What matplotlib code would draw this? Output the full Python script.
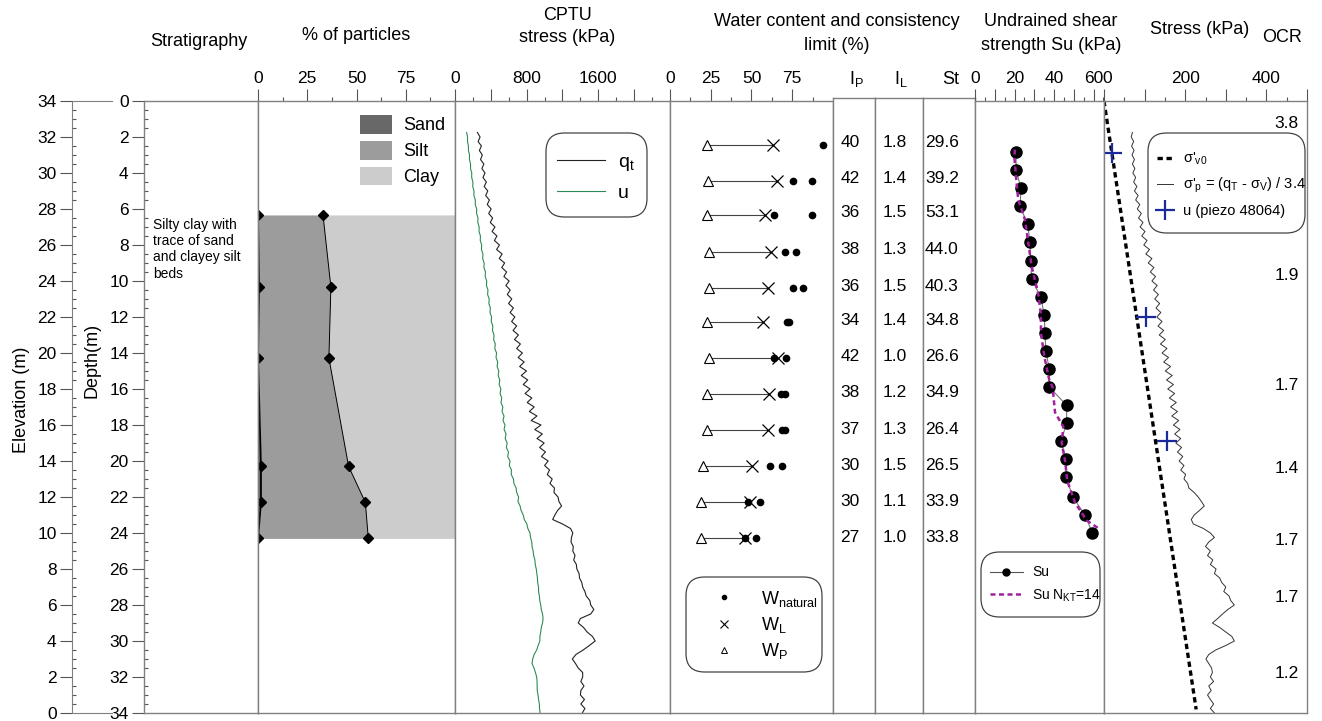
import numpy as np
import matplotlib
matplotlib.use("Agg")
import matplotlib.pyplot as plt
from matplotlib.ticker import FixedLocator, MultipleLocator, FuncFormatter
from matplotlib.patches import FancyBboxPatch, Patch
from matplotlib.lines import Line2D

plt.rcParams['font.family'] = ['Liberation Sans', 'DejaVu Sans']
plt.rcParams['mathtext.fontset'] = 'custom'
plt.rcParams['mathtext.rm'] = 'Liberation Sans'
plt.rcParams['mathtext.it'] = 'Liberation Sans'

# ---- data ----
# grain size (% of particles)
part_depth = [6.33, 10.33, 14.28, 20.3, 22.3, 24.3]
sand_pct = [0, 0.5, 0, 1.5, 1.5, 0]
silt_pct = [33, 36.5, 36, 44.5, 53, 56]

# CPTU, one reading every 0.25 m from 1.75 m
cptu_top = 1.75
cptu_step = 0.25
qt = [250, 280, 258, 295, 272, 305, 285, 322,
      300, 335, 312, 350, 326, 366, 342, 384,
      360, 404, 376, 420, 394, 446, 414, 468,
      440, 496, 464, 526, 494, 554, 522, 576,
      546, 604, 568, 616, 584, 634, 598, 652,
      615, 668, 632, 688, 648, 708, 664, 730,
      688, 752, 705, 772, 722, 798, 740, 812,
      762, 838, 782, 858, 806, 884, 830, 915,
      850, 960, 890, 975, 915, 995, 945, 1010,
      965, 1040, 1000, 1055, 1030, 1085, 1060, 1110,
      1105, 1150, 1160, 1190, 1145, 1115, 1090, 1200,
      1290, 1315, 1300, 1295, 1320, 1315, 1340, 1325,
      1355, 1360, 1385, 1390, 1415, 1425, 1450, 1465,
      1505, 1515, 1550, 1515, 1400, 1376, 1435, 1475,
      1535, 1565, 1500, 1430, 1350, 1310, 1345, 1375,
      1425, 1425, 1405, 1440, 1405, 1400, 1445, 1405,
      1450, 1421]
u = [130, 140, 140, 150, 150, 162, 161, 174,
     173, 187, 186, 200, 198, 212, 211, 227,
     226, 242, 241, 257, 254, 270, 268, 284,
     282, 298, 295, 312, 309, 325, 323, 340,
     337, 354, 351, 368, 364, 382, 378, 395,
     391, 408, 405, 422, 418, 436, 431, 450,
     444, 464, 458, 477, 470, 489, 482, 500,
     493, 512, 503, 522, 513, 534, 525, 547,
     536, 558, 548, 570, 560, 582, 573, 597,
     588, 614, 606, 630, 628, 652, 658, 682,
     688, 710, 703, 727, 738, 762, 773, 802,
     813, 837, 843, 857, 860, 872, 878, 892,
     896, 907, 913, 920, 923, 932, 933, 942,
     946, 957, 963, 977, 983, 977, 963, 957,
     948, 947, 928, 912, 883, 867, 860, 882,
     898, 912, 916, 917, 918, 927, 933, 942,
     943, 951]
sigma_p = [70, 67, 73, 68, 74, 69, 75, 70,
           76, 71, 78, 73, 81, 75, 84, 78,
           88, 82, 92, 85, 96, 89, 101, 93,
           106, 98, 112, 103, 118, 109, 123, 114,
           127, 118, 131, 122, 134, 125, 137, 128,
           140, 130, 143, 133, 147, 136, 151, 139,
           155, 143, 159, 147, 164, 151, 168, 154,
           171, 157, 174, 161, 178, 164, 181, 167,
           184, 171, 187, 174, 189, 177, 191, 181,
           194, 185, 197, 189, 201, 197, 206, 209,
           222, 232, 240, 247, 235, 222, 215, 220,
           245, 262, 272, 258, 250, 262, 255, 268,
           262, 276, 272, 285, 290, 300, 295, 308,
           312, 321, 305, 292, 280, 267, 285, 300,
           315, 321, 300, 275, 258, 251, 258, 265,
           267, 262, 270, 258, 264, 255, 262, 270,
           262, 272]

# water content and consistency
wc_depth = [2.44, 4.44, 6.33, 8.39, 10.4, 12.3, 14.3, 16.3, 18.3, 20.3, 22.3, 24.3]
w_p = [23, 23.5, 22.5, 24, 24, 23, 24, 23, 23, 20.5, 19, 19]
w_l = [63, 65.5, 58.5, 62, 60, 57, 66, 61, 60, 50.5, 49, 46]
w_nat_a = [94, 75.6, 64, 70.7, 75.6, 72, 64, 68, 69, 61.6, 48, 46]
w_nat_b = [np.nan, 87, 87, 77, 81.7, 73, 71, 70.7, 70.7, 69, 55, 53]
ip_vals = ['40', '42', '36', '38', '36', '34', '42', '38', '37', '30', '30', '27']
il_vals = ['1.8', '1.4', '1.5', '1.3', '1.5', '1.4', '1.0', '1.2', '1.3', '1.5', '1.1', '1.0']
st_vals = ['29.6', '39.2', '53.1', '44.0', '40.3', '34.8', '26.6', '34.9', '26.4', '26.5', '33.9', '33.8']

# undrained shear strength
su_depth = [2.85, 3.85, 4.85, 5.85, 6.85, 7.85, 8.9, 9.9, 10.9, 11.9, 12.9,
            13.9, 14.9, 15.9, 16.9, 17.9, 18.9, 19.9, 20.9, 22.0, 23.0, 24.0]
su = [20.8, 20.8, 23.3, 22.8, 26.7, 27.8, 28.2, 28.7, 33.3, 35.1, 35.4,
      35.9, 37.6, 37.6, 46.4, 46.4, 43.5, 46.1, 46.1, 49.5, 55.7, 59.4]
su_nkt_depth = [2.7, 3.1, 4.6, 5.5, 6.6, 7.9, 9.2, 10.7, 11.8, 12.9, 14.2,
                15.5, 15.9, 17.3, 18.1, 19.0, 20.0, 21.1, 22.3, 23.3, 23.8]
su_nkt = [20.2, 19.9, 21.1, 21.9, 25.3, 27.0, 28.7, 32.0, 33.3, 33.4, 35.1,
          37.6, 39.3, 40.5, 44.7, 43.9, 45.6, 46.7, 50.6, 56.5, 63.3]

# stresses
sv0_depth = [0, 33.8]
sv0 = [0, 227]
piezo_depth = [2.9, 12.0, 18.9]
piezo_u = [20, 104, 156]
ocr_depth = [1.24, 9.7, 15.8, 20.4, 24.4, 27.6, 31.8]
ocr_vals = ['3.8', '1.9', '1.7', '1.4', '1.7', '1.7', '1.2']

# ---- figure ----
W, H = 1322, 721
TOP, BOT = 101, 713
GRAY = '#808080'
TICK = '#555555'
FS = 12.5

fig = plt.figure(figsize=(W / 100, H / 100), dpi=100)


def box(x0, x1, y0=TOP, y1=BOT):
    return [x0 / W, 1 - y1 / H, (x1 - x0) / W, (y1 - y0) / H]


def ftext(x, y, s, **kw):
    kw.setdefault('fontsize', FS)
    kw.setdefault('ha', 'center')
    kw.setdefault('va', 'center')
    fig.text(x / W, 1 - y / H, s, **kw)


def panel(x0, x1, y0=TOP):
    ax = fig.add_axes(box(x0, x1, y0))
    ax.set_ylim(34, 0)
    for s in ax.spines.values():
        s.set_color(GRAY)
        s.set_linewidth(1)
    ax.tick_params(left=False, labelleft=False, bottom=False, labelbottom=False)
    return ax


def top_axis(ax, lo, hi, major, minor, labels):
    ax.set_xlim(lo, hi)
    ax.xaxis.set_major_locator(FixedLocator(major))
    ax.xaxis.set_minor_locator(FixedLocator(minor))
    ax.xaxis.set_major_formatter(
        FuncFormatter(lambda v, p: f'{v:g}' if any(abs(v - l) < 1e-6 for l in labels) else ''))
    ax.tick_params(axis='x', which='both', top=True, labeltop=True, bottom=False,
                   labelbottom=False, direction='out', color=TICK, width=0.8)
    ax.tick_params(axis='x', which='major', length=9, labelsize=FS, pad=2)
    ax.tick_params(axis='x', which='minor', length=3)


def round_box(ax, x0, y0, x1, y1):
    ax.add_patch(FancyBboxPatch((x0 / W, 1 - y1 / H), (x1 - x0) / W, (y1 - y0) / H,
                                boxstyle='round,pad=0,rounding_size=0.014',
                                mutation_aspect=W / H, transform=fig.transFigure, clip_on=False,
                                facecolor='white', edgecolor='#444444', linewidth=0.9, zorder=4))


def depth_ticks(ax):
    ax.yaxis.set_major_locator(MultipleLocator(2))
    ax.yaxis.set_minor_locator(MultipleLocator(0.5))
    ax.tick_params(axis='y', which='both', left=True, labelleft=True, color=TICK, width=0.8)
    ax.tick_params(axis='y', which='major', direction='out', length=9, labelsize=FS, pad=2)
    ax.tick_params(axis='y', which='minor', direction='in', length=3)


# elevation axis
ax_el = fig.add_axes(box(72, 112))
ax_el.set_ylim(0, 34)
ax_el.spines['right'].set_visible(False)
for s in ['left', 'top', 'bottom']:
    ax_el.spines[s].set_color(GRAY)
ax_el.set_xticks([])
depth_ticks(ax_el)
ax_el.patch.set_alpha(0)

# stratigraphy + depth axis
ax_st = panel(144, 258)
depth_ticks(ax_st)
ax_st.set_xticks([])
ax_st.text(0.08, 6.5, 'Silty clay with\ntrace of sand\nand clayey silt\nbeds', fontsize=10,
           ha='left', va='top', linespacing=1.2, transform=ax_st.get_yaxis_transform())

# % of particles
ax_pt = panel(258, 455)
top_axis(ax_pt, 0, 100, [0, 25, 50, 75], [12.5, 37.5, 62.5, 87.5], [0, 25, 50, 75])
sand = np.array(sand_pct)
sandsilt = sand + np.array(silt_pct)
SAND, SILT, CLAY = '#686868', '#9c9c9c', '#cccccc'
ax_pt.fill_betweenx(part_depth, 0, sand, color=SAND, lw=0)
ax_pt.fill_betweenx(part_depth, sand, sandsilt, color=SILT, lw=0)
ax_pt.fill_betweenx(part_depth, sandsilt, 100, color=CLAY, lw=0)
ax_pt.plot(sand, part_depth, color='k', lw=1.3, marker='D', ms=5)
ax_pt.plot(sandsilt, part_depth, color='k', lw=0.7, marker='D', ms=5)
ax_pt.legend(handles=[Patch(facecolor=c, edgecolor='none', label=l)
                      for c, l in [(SAND, 'Sand'), (SILT, 'Silt'), (CLAY, 'Clay')]],
             loc='center left', bbox_to_anchor=(360 / W, 1 - 150.5 / H), bbox_transform=fig.transFigure,
             frameon=False, fontsize=13, handlelength=1.78, handleheight=1.22, handletextpad=0.6,
             labelspacing=0.36, borderpad=0, borderaxespad=0)

# CPTU
ax_cp = panel(455, 670)
top_axis(ax_cp, 0, 2400, list(range(0, 2400, 400)), list(range(200, 2400, 400)), [0, 800, 1600])
cptu_depth = cptu_top + cptu_step * np.arange(len(qt))
l_qt, = ax_cp.plot(qt, cptu_depth, color='#222222', lw=0.8)
l_u, = ax_cp.plot(u, cptu_depth, color='#2e8b57', lw=0.8)
round_box(ax_cp, 546, 133, 647, 217)
ax_cp.legend([l_qt, l_u], [r'$\mathregular{q_t}$', 'u'], loc='center left',
             bbox_to_anchor=(557 / W, 1 - 177.5 / H), bbox_transform=fig.transFigure,
             frameon=False, fontsize=14, handlelength=2.47, handletextpad=0.67,
             labelspacing=0.6, borderpad=0, borderaxespad=0)

# water content
ax_wc = panel(670, 833)
top_axis(ax_wc, 0, 100, [0, 25, 50, 75], [12.5, 37.5, 62.5, 87.5], [0, 25, 50, 75])
ax_wc.hlines(wc_depth, w_p, w_l, color='#444444', lw=0.8)
ax_wc.plot(w_p, wc_depth, ls='none', marker='^', mfc='white', mec='k', ms=7, mew=0.8)
ax_wc.plot(w_l, wc_depth, ls='none', marker='x', color='k', ms=9, mew=0.9)
ax_wc.plot(w_nat_a, wc_depth, ls='none', marker='o', color='k', ms=4.5)
ax_wc.plot(w_nat_b, wc_depth, ls='none', marker='o', color='k', ms=4.5)
round_box(ax_wc, 686, 577, 822, 672)
wc_handles = [Line2D([], [], ls='none', marker='o', color='k', ms=3),
              Line2D([], [], ls='none', marker='x', color='k', ms=6, mew=0.8),
              Line2D([], [], ls='none', marker='^', mfc='white', mec='k', ms=5, mew=0.7)]
ax_wc.legend(wc_handles, [r'$\mathregular{W_{natural}}$', r'$\mathregular{W_L}$', r'$\mathregular{W_P}$'],
             loc='center left', bbox_to_anchor=(710 / W, 1 - 625 / H), bbox_transform=fig.transFigure,
             frameon=False, fontsize=13, numpoints=1, handlelength=1.5, handletextpad=1.3,
             labelspacing=0.35, borderpad=0, borderaxespad=0)

# Ip, IL, St columns
for (x0, x1), vals, xoff, head in [((833, 875), ip_vals, 0.17, r'$\mathregular{I_P}$'),
                                   ((875, 923), il_vals, 0.15, r'$\mathregular{I_L}$'),
                                   ((923, 975), st_vals, 0.04, 'St')]:
    ax_c = panel(x0, x1, 98)
    ax_c.set_xticks([])
    for d, v in zip(wc_depth, vals):
        ax_c.text(xoff, d, v, fontsize=FS, ha='left', va='center', transform=ax_c.get_yaxis_transform())
    ftext((x0 + x1) / 2 + 2, 79, head, fontsize=13)

# undrained shear strength
ax_su = panel(975, 1104)
top_axis(ax_su, 0, 65.3, list(range(0, 70, 10)), list(range(5, 70, 10)), [0, 20, 40, 60])
ax_su.plot(su, su_depth, color='#777777', lw=0.8, marker='o', mfc='k', mec='k', ms=8)
ax_su.plot(su_nkt, su_nkt_depth, color='#a020a0', ls=(0, (2, 1.4)), lw=1.8)
round_box(ax_su, 981, 552, 1100, 617)
su_handles = [Line2D([], [], color='#555555', lw=0.8, marker='o', mfc='k', mec='k', ms=5),
              Line2D([], [], color='#a020a0', ls=(0, (2, 1.4)), lw=1.8)]
ax_su.legend(su_handles, ['Su', r'Su N$\mathregular{_{KT}}$=14'], loc='center left',
             bbox_to_anchor=(990 / W, 1 - 584.5 / H), bbox_transform=fig.transFigure,
             frameon=False, fontsize=10, handlelength=2.37, handletextpad=0.65,
             labelspacing=0.55, borderpad=0, borderaxespad=0)

# stresses
ax_sp = panel(1104, 1307)
top_axis(ax_sp, 0, 500, list(range(0, 600, 100)), list(range(50, 500, 100)), [200, 400])
# the "0" sits right against the Su "60", nudge it a little to the right
ax_sp.annotate('0', xy=(0, 1), xycoords='axes fraction', xytext=(2.5, 11), textcoords='offset points',
               ha='center', va='bottom', fontsize=FS)
ax_sp.plot(sv0, sv0_depth, color='k', ls=(0, (1.6, 1.1)), lw=2.4)
ax_sp.plot(sigma_p, cptu_depth, color='#333333', lw=0.7)
ax_sp.plot(piezo_u, piezo_depth, ls='none', marker='+', ms=14, mew=1.6, color='#1a2a9a')
for d, v in zip(ocr_depth, ocr_vals):
    ax_sp.text(0.90, d, v, fontsize=FS, ha='center', va='center', transform=ax_sp.get_yaxis_transform())
round_box(ax_sp, 1148, 133, 1305, 233)
ax_sp.legend([Line2D([], [], color='k', ls=(0, (1.6, 1.1)), lw=2.4),
              Line2D([], [], color='#333333', lw=0.7),
              Line2D([], [], ls='none', marker='+', ms=14, mew=1.6, color='#1a2a9a')],
             [r"σ'$\mathregular{_{v0}}$",
              r"σ'$\mathregular{_p}$ = (q$\mathregular{_T}$ - σ$\mathregular{_V}$) / 3.4",
              'u (piezo 48064)'],
             loc='center left', bbox_to_anchor=(1157 / W, 1 - 184.5 / H), bbox_transform=fig.transFigure,
             frameon=False, fontsize=10.5, handlelength=1.1, handletextpad=0.68,
             labelspacing=0.6, borderpad=0, borderaxespad=0, numpoints=1)

# headers
ftext(199, 42, 'Stratigraphy', fontsize=13)
ftext(356, 36, '% of particles', fontsize=13)
ftext(567, 15, 'CPTU', fontsize=13)
ftext(567, 38, 'stress (kPa)', fontsize=13)
ftext(837, 22, 'Water content and consistency', fontsize=13)
ftext(837, 45, 'limit (%)', fontsize=13)
ftext(1051, 22, 'Undrained shear', fontsize=13)
ftext(1051, 45, 'strength Su (kPa)', fontsize=13)
ftext(1200, 30, 'Stress (kPa)', fontsize=13)
ftext(1282, 37, 'OCR', fontsize=13)
ftext(22, 400, 'Elevation (m)', fontsize=13, rotation=90)
ftext(92, 360, 'Depth(m)', fontsize=13, rotation=90)

fig.savefig('out.png', dpi=100)
